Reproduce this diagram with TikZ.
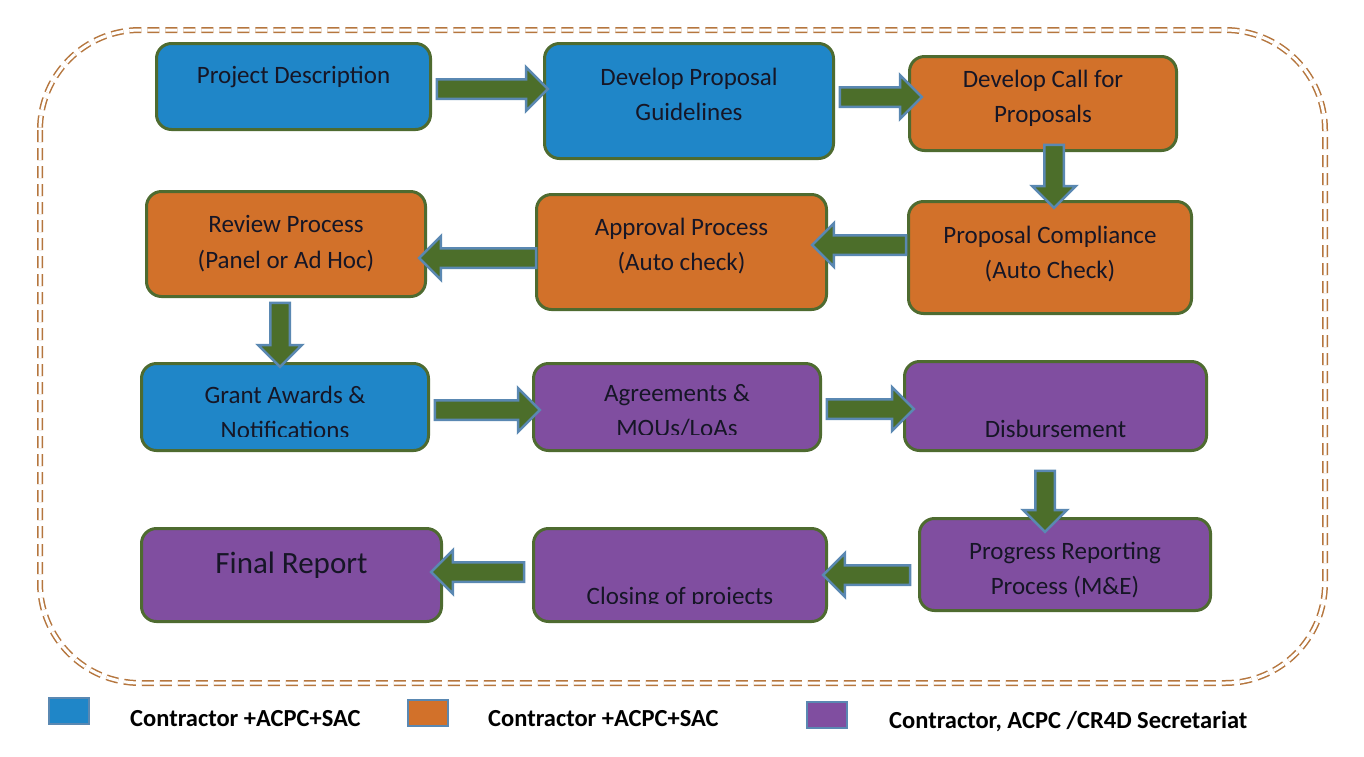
\documentclass[tikz,border=0pt]{standalone}
\usepackage{fontspec}
\setmainfont{Carlito}
\usetikzlibrary{shapes.arrows,calc}
\definecolor{cblue}{HTML}{1F86C8}
\definecolor{corange}{HTML}{D2712A}
\definecolor{cpurple}{HTML}{804EA0}
\definecolor{cborder}{HTML}{4E6B30}
\definecolor{agreen}{HTML}{4C6E2A}
\definecolor{aedge}{HTML}{5A88B2}
\definecolor{framecol}{HTML}{B5763E}
\definecolor{ink}{HTML}{161626}
\newcommand\procbox[6]{\node[procstyle, fill=#2, minimum width={#5-#3-3}, minimum height={#6-#4-3}] (#1) at ({(#3+#5)/2},{(#4+#6)/2}) {};}
\newcommand\ptext[4]{\node[txt, anchor=base] (#1) at (#2 |- 0,#3) {#4};}
\newcommand\ctext[5]{\begin{scope}\clip (#2.north west) rectangle (#2.east |- 0,#5);\node[txt, anchor=base] (#1) at (#2 |- 0,#3) {#4};\end{scope}}
\newcommand\barrow[3]{\path let \p1=#2, \p2=#3, \n1={veclen(\x2-\x1,\y2-\y1)}, \n2={atan2(\y2-\y1,\x2-\x1)} in node[blockarrow, minimum height=\n1, rotate=\n2] (#1) at ({(\x1+\x2)/2},{(\y1+\y2)/2}) {};}
\begin{document}
\begin{tikzpicture}[x=1pt,y=-1pt,
  procstyle/.style={draw=cborder, line width=3pt, rounded corners=15pt, inner sep=0pt},
  txt/.style={text=ink, font=\fontsize{25}{30}\selectfont, inner sep=0pt},
  blockarrow/.style={single arrow, draw=aedge, fill=agreen, line width=2.5pt, inner xsep=0pt, inner ysep=8.5pt, minimum width=0pt, single arrow head extend=12pt, single arrow head indent=0pt, outer sep=0pt},
  legbox/.style={draw=aedge, line width=2.5pt, minimum width=40pt, minimum height=26pt, inner sep=0pt},
  legtxt/.style={text=black, font=\bfseries\fontsize{24.5}{28}\selectfont, inner sep=0pt, anchor=base west}]
\useasboundingbox (0,0) rectangle (1364,756);
\fill[white] (0,0) rectangle (1364,756);
% frame
\draw[draw=framecol, line width=1.5pt, double=white, double distance=3pt, dash pattern=on 12pt off 6pt, rounded corners=100pt] (40,30) rectangle (1325,683);
% boxes
\procbox{pd}{cblue}{155}{42}{432}{131}
\procbox{dpg}{cblue}{543}{42}{835}{160}
\procbox{dcp}{corange}{908}{55}{1178}{152}
\procbox{rp}{corange}{145}{190}{427}{298}
\procbox{ap}{corange}{535}{193}{828}{311}
\procbox{pc}{corange}{907}{200}{1193}{315}
\procbox{ga}{cblue}{140}{362}{430}{452}
\procbox{ag}{cpurple}{532}{362}{822}{452}
\procbox{dis}{cpurple}{903}{360}{1208}{452}
\procbox{fr}{cpurple}{140}{527}{443}{623}
\procbox{cp}{cpurple}{532}{527}{828}{623}
\procbox{prp}{cpurple}{918}{517}{1212}{612}
% texts
\ptext{pd-t}{pd}{83}{Project Description}
\ptext{dpg-t1}{dpg}{85}{Develop Proposal}
\ptext{dpg-t2}{dpg}{120}{Guidelines}
\ptext{dcp-t1}{dcp}{87}{Develop Call for}
\ptext{dcp-t2}{dcp}{122}{Proposals}
\ptext{rp-t1}{rp}{232}{Review Process}
\ptext{rp-t2}{rp}{268}{(Panel or Ad Hoc)}
\ptext{ap-t1}{ap}{235}{Approval Process}
\ptext{ap-t2}{ap}{270}{(Auto check)}
\ptext{pc-t1}{pc}{243}{Proposal Compliance}
\ptext{pc-t2}{pc}{278}{(Auto Check)}
\ptext{ga-t1}{ga}{403}{Grant Awards \&}
\ctext{ga-t2}{ga}{438}{Notifications}{436}
\ptext{ag-t1}{ag}{401}{Agreements \&}
\ctext{ag-t2}{ag}{436}{MOUs/LoAs}{434}
\ptext{dis-t}{dis}{437}{Disbursement}
\node[txt, anchor=base, font=\fontsize{31}{36}\selectfont] (fr-t) at (fr |- 0,573) {Final Report};
\ctext{cp-t}{cp}{604}{Closing of projects}{603}
\ptext{prp-t1}{prp}{559}{Progress Reporting}
\ptext{prp-t2}{prp}{594}{Process (M\&E)}
% arrows
\barrow{a1}{(pd.east |- 0,89)}{(dpg.west |- 0,89)}
\barrow{a2}{(dpg.east |- 0,97)}{($(dcp.west |- 0,97)+(9,0)$)}
\barrow{a3}{($(dcp.south -| 1054,0)+(0,-12)$)}{($(pc.north -| 1054,0)+(0,3)$)}
\barrow{a4}{($(pc.west |- 0,245)+(4,0)$)}{($(ap.east |- 0,245)+(-11,0)$)}
\barrow{a5}{($(ap.west |- 0,258)+(6,0)$)}{($(rp.east |- 0,258)+(-3,0)$)}
\barrow{a6}{(rp.south -| 280,0)}{(ga.north -| 280,0)}
\barrow{a7}{(ga.east |- 0,410)}{($(ag.west |- 0,410)+(3,0)$)}
\barrow{a8}{(ag.east |- 0,409)}{($(dis.west |- 0,409)+(6,0)$)}
\barrow{a9}{($(dis.south -| 1045,0)+(0,14)$)}{($(prp.north -| 1045,0)+(0,10)$)}
\barrow{a10}{($(prp.west |- 0,575)+(-3,0)$)}{(cp.east |- 0,575)}
\barrow{a11}{($(cp.west |- 0,572)+(-3,0)$)}{($(fr.east |- 0,572)+(-7,0)$)}
% legend
\node[legbox, fill=cblue] (lg1) at (69,711) {};
\node[legtxt] (lg1-t) at (130,726) {Contractor +ACPC+SAC};
\node[legbox, fill=corange] (lg2) at (428,713) {};
\node[legtxt] (lg2-t) at (488,726) {Contractor +ACPC+SAC};
\node[legbox, fill=cpurple] (lg3) at (827,715) {};
\node[legtxt] (lg3-t) at (889,728) {Contractor, ACPC /CR4D Secretariat};
\end{tikzpicture}
\end{document}
